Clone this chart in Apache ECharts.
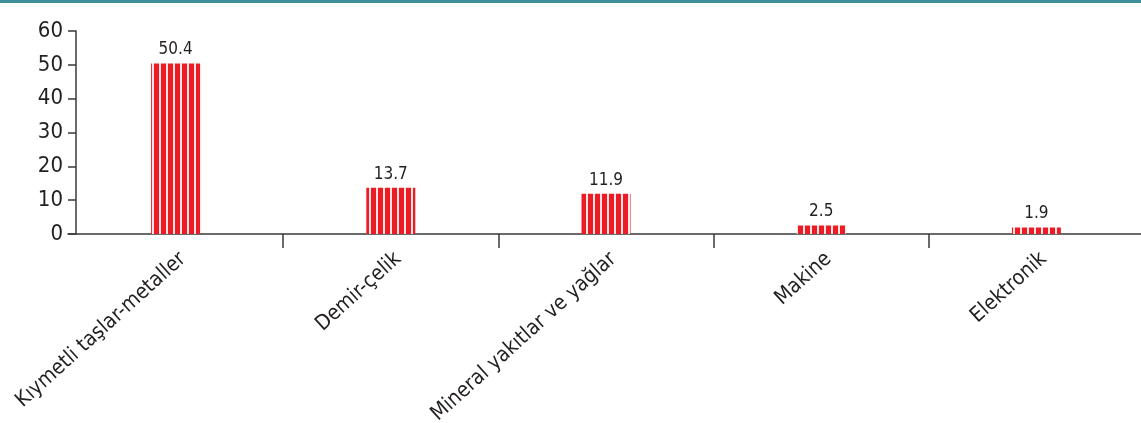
<!DOCTYPE html>
<html>
<head>
<meta charset="utf-8">
<script src="https://cdn.jsdelivr.net/npm/echarts@6/dist/echarts.min.js"></script>
<style>
html,body{margin:0;padding:0;background:#fff;overflow:hidden;}
#chart{width:1141px;height:423px;}
</style>
</head>
<body>
<div id="chart"></div>
<script>
var categories = ['Kıymetli taşlar-metaller', 'Demir-çelik', 'Mineral yakıtlar ve yağlar', 'Makine', 'Elektronik'];
var values = [50.4, 13.7, 11.9, 2.5, 1.9];
var yTicks = [0, 10, 20, 30, 40, 50, 60];

var FONT = "'DejaVu Sans Condensed', 'Liberation Sans Narrow', 'Roboto', sans-serif";

// striped red fill
var pc = document.createElement('canvas');
pc.width = 7; pc.height = 4;
var ctx = pc.getContext('2d');
ctx.fillStyle = '#ed1c24';
ctx.fillRect(0, 0, 7, 4);
ctx.fillStyle = '#fce4e7';
ctx.fillRect(5, 0, 2, 4);

var chart = echarts.init(document.getElementById('chart'), null, {renderer: 'canvas'});
chart.setOption({
  animation: false,
  backgroundColor: '#ffffff',
  graphic: [{
    type: 'rect', left: 0, top: 0,
    shape: {width: 1141, height: 3},
    style: {fill: '#3f8f99'}
  }],
  grid: {left: 68, right: -3, top: 31, bottom: 189, containLabel: false, outerBoundsMode: 'none'},
  xAxis: {
    type: 'category',
    data: categories,
    boundaryGap: true,
    axisLine: {lineStyle: {color: '#3a3a3a', width: 1.5}},
    axisTick: {
      show: true, length: 14, inside: false,
      interval: function (idx) { return idx !== 0; },
      lineStyle: {color: '#3a3a3a', width: 1.5}
    },
    axisLabel: {
      interval: 0, rotate: 42, margin: 14,
      fontFamily: FONT, fontSize: 21, color: '#231f20',
      formatter: function (v) { return '{c|' + v + '}'; },
      rich: {c: {fontFamily: FONT, fontSize: 21, color: '#231f20', padding: [22, 0, 0, 0]}}
    }
  },
  yAxis: {
    type: 'value',
    min: yTicks[0], max: yTicks[yTicks.length - 1], interval: 10,
    offset: -8,
    axisLine: {show: true, lineStyle: {color: '#3a3a3a', width: 1.5}},
    axisTick: {show: true, length: 8, lineStyle: {color: '#3a3a3a', width: 1.5}},
    axisLabel: {margin: 13, fontFamily: FONT, fontSize: 22, color: '#231f20'},
    splitLine: {show: false}
  },
  series: [{
    type: 'bar',
    data: values,
    barWidth: 49,
    itemStyle: {color: {image: pc, repeat: 'repeat'}},
    label: {
      show: true, position: 'top', distance: 5,
      fontFamily: FONT, fontSize: 17, color: '#231f20',
      formatter: function (p) { return p.value.toFixed(1); }
    }
  }]
});
</script>
</body>
</html>
